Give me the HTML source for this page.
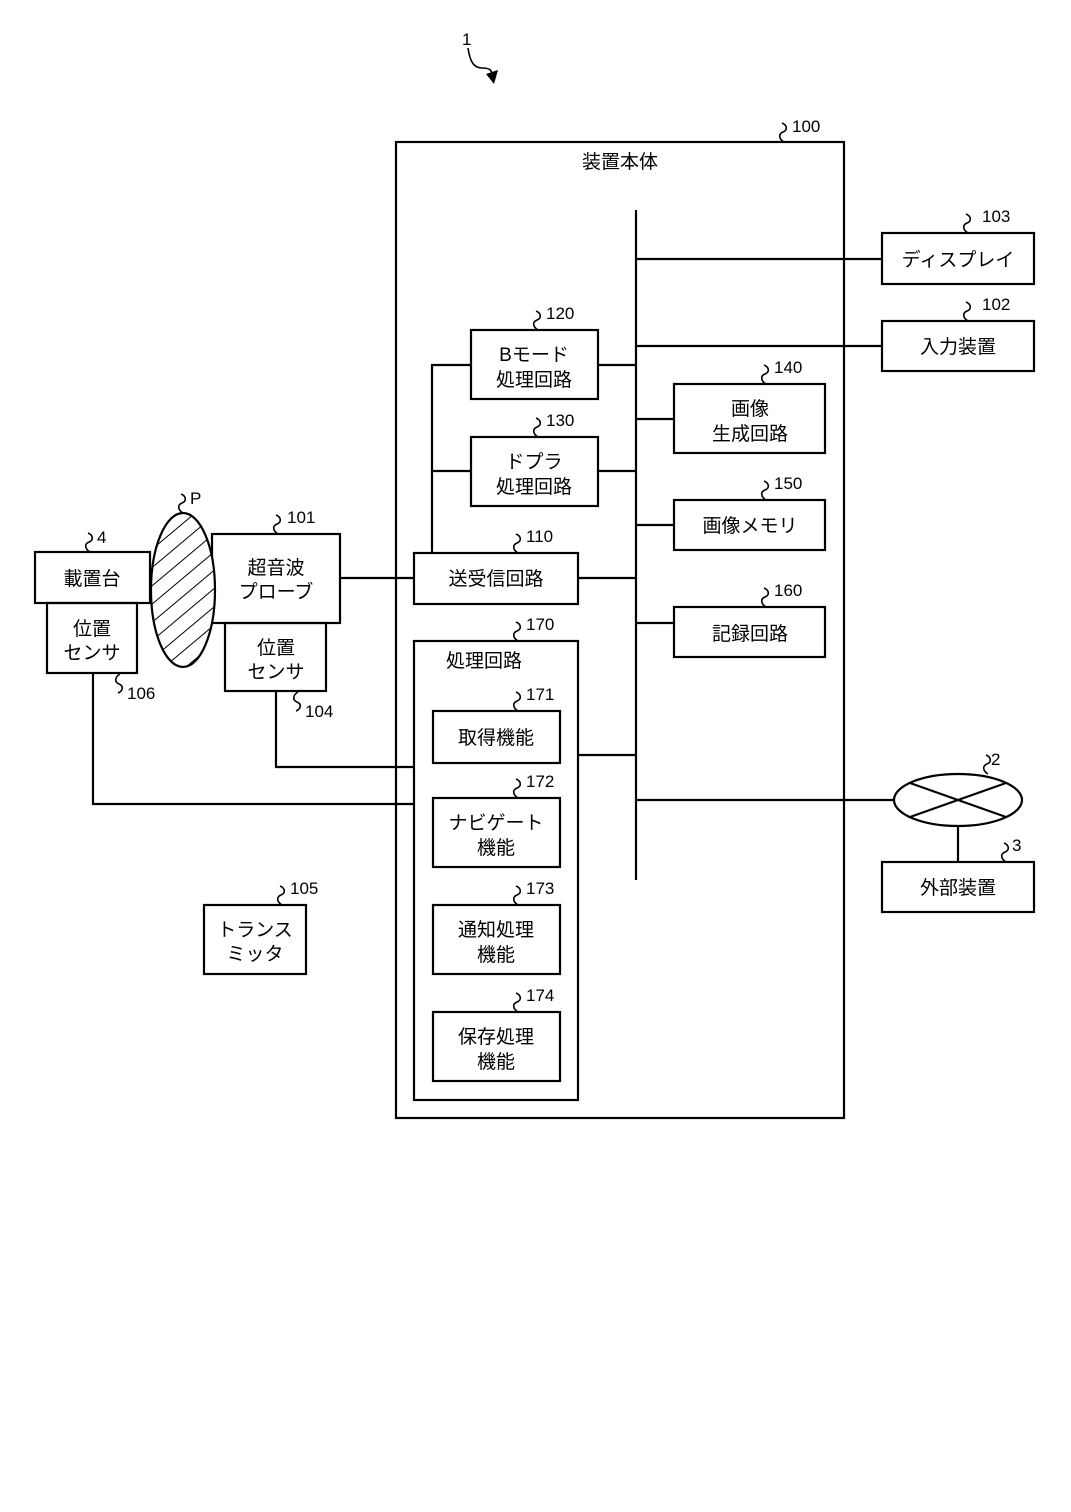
<!DOCTYPE html>
<html><head><meta charset="utf-8"><style>
html,body{margin:0;padding:0;background:#fff;}
svg{display:block;}
text{font-family:"Liberation Sans","Noto Sans CJK JP",sans-serif;fill:#000;}
.t{font-size:19px;text-anchor:middle;}
.n{font-size:17px;}
</style></head><body>
<svg width="1071" height="1512" viewBox="0 0 1071 1512" xmlns="http://www.w3.org/2000/svg">
<defs>
<pattern id="h" patternUnits="userSpaceOnUse" width="14" height="14" patternTransform="rotate(-40)">
<rect width="14" height="14" fill="#fff"/><line x1="0" y1="0" x2="14" y2="0" stroke="#000" stroke-width="2"/>
</pattern>
<path id="sq" d="M0 0 c-5 -3 -6 -8 -1 -10 c5 -2 4 -7 -1 -9" fill="none" stroke="#000" stroke-width="1.6"/>
</defs>
<g fill="none" stroke="#000" stroke-width="2.2">
<!-- main box -->
<rect x="396" y="142" width="448" height="976"/>
<line x1="636" y1="210" x2="636" y2="880"/>
<rect x="882" y="233" width="152" height="51"/>
<line x1="636" y1="259" x2="882" y2="259"/>
<rect x="882" y="321" width="152" height="50"/>
<line x1="636" y1="346" x2="882" y2="346"/>
<rect x="471" y="330" width="127" height="69"/>
<line x1="598" y1="365" x2="636" y2="365"/>
<rect x="471" y="437" width="127" height="69"/>
<line x1="598" y1="471" x2="636" y2="471"/>
<polyline points="471,365 432,365 432,553"/>
<line x1="432" y1="471" x2="471" y2="471"/>
<rect x="414" y="553" width="164" height="51"/>
<line x1="578" y1="578" x2="636" y2="578"/>
<rect x="674" y="384" width="151" height="69"/>
<line x1="636" y1="419" x2="674" y2="419"/>
<rect x="674" y="500" width="151" height="50"/>
<line x1="636" y1="525" x2="674" y2="525"/>
<rect x="674" y="607" width="151" height="50"/>
<line x1="636" y1="623" x2="674" y2="623"/>
<rect x="414" y="641" width="164" height="459"/>
<rect x="433" y="711" width="127" height="52"/>
<rect x="433" y="798" width="127" height="69"/>
<rect x="433" y="905" width="127" height="69"/>
<rect x="433" y="1012" width="127" height="69"/>
<line x1="578" y1="755" x2="636" y2="755"/>
<line x1="636" y1="800" x2="894" y2="800"/>
<ellipse cx="958" cy="800" rx="64" ry="26"/>
<line x1="910" y1="783" x2="1006" y2="817"/>
<line x1="910" y1="817" x2="1006" y2="783"/>
<line x1="958" y1="826" x2="958" y2="862"/>
<rect x="882" y="862" width="152" height="50"/>
<!-- left side -->
<rect x="212" y="534" width="128" height="89"/>
<line x1="340" y1="578" x2="414" y2="578"/>
<rect x="225" y="623" width="101" height="68"/>
<polyline points="276,691 276,767 414,767"/>
<rect x="35" y="552" width="115" height="51"/>
<rect x="47" y="603" width="90" height="70"/>
<polyline points="93,673 93,804 414,804"/>
<ellipse cx="183" cy="590" rx="32" ry="77" fill="url(#h)"/>
<rect x="204" y="905" width="102" height="69"/>
<!-- ref 1 arrow -->
<path d="M468 48 c2 14 6 20 14 20 c8 0 10 2 10 8" stroke-width="1.6"/>
</g>
<polygon points="486,74 498,70 494,84" fill="#000"/>
<!-- squiggles -->
<use href="#sq" x="784" y="142"/>
<use href="#sq" x="968" y="233"/>
<use href="#sq" x="968" y="321"/>
<use href="#sq" x="538" y="330"/>
<use href="#sq" x="538" y="437"/>
<use href="#sq" x="518" y="553"/>
<use href="#sq" x="766" y="384"/>
<use href="#sq" x="766" y="500"/>
<use href="#sq" x="766" y="607"/>
<use href="#sq" x="518" y="641"/>
<use href="#sq" x="518" y="711"/>
<use href="#sq" x="518" y="798"/>
<use href="#sq" x="518" y="905"/>
<use href="#sq" x="518" y="1012"/>
<use href="#sq" x="988" y="774"/>
<use href="#sq" x="1006" y="862"/>
<use href="#sq" x="278" y="534"/>
<use href="#sq" x="90" y="552"/>
<use href="#sq" x="183" y="513"/>
<use href="#sq" x="282" y="905"/>
<path d="M298 692 c-5 3 -6 8 -1 10 c5 2 4 7 -1 9" fill="none" stroke="#000" stroke-width="1.6"/>
<path d="M120 674 c-5 3 -6 8 -1 10 c5 2 4 7 -1 9" fill="none" stroke="#000" stroke-width="1.6"/>
<!-- numbers -->
<text class="n" x="462" y="45">1</text>
<text class="n" x="792" y="132">100</text>
<text class="n" x="982" y="222">103</text>
<text class="n" x="982" y="310">102</text>
<text class="n" x="546" y="319">120</text>
<text class="n" x="546" y="426">130</text>
<text class="n" x="526" y="542">110</text>
<text class="n" x="774" y="373">140</text>
<text class="n" x="774" y="489">150</text>
<text class="n" x="774" y="596">160</text>
<text class="n" x="526" y="630">170</text>
<text class="n" x="526" y="700">171</text>
<text class="n" x="526" y="787">172</text>
<text class="n" x="526" y="894">173</text>
<text class="n" x="526" y="1001">174</text>
<text class="n" x="991" y="765">2</text>
<text class="n" x="1012" y="851">3</text>
<text class="n" x="287" y="523">101</text>
<text class="n" x="97" y="543">4</text>
<text class="n" x="190" y="504">P</text>
<text class="n" x="290" y="894">105</text>
<text class="n" x="305" y="717">104</text>
<text class="n" x="127" y="699">106</text>
<!-- labels -->
<text class="t" x="620" y="168">装置本体</text>
<text class="t" x="958" y="266">ディスプレイ</text>
<text class="t" x="958" y="353">入力装置</text>
<text class="t" x="534" y="361">Bモード</text>
<text class="t" x="534" y="386">処理回路</text>
<text class="t" x="534" y="468">ドプラ</text>
<text class="t" x="534" y="493">処理回路</text>
<text class="t" x="496" y="585">送受信回路</text>
<text class="t" x="750" y="415">画像</text>
<text class="t" x="750" y="440">生成回路</text>
<text class="t" x="750" y="532">画像メモリ</text>
<text class="t" x="750" y="640">記録回路</text>
<text class="t" x="484" y="667">処理回路</text>
<text class="t" x="496" y="744">取得機能</text>
<text class="t" x="496" y="829">ナビゲート</text>
<text class="t" x="496" y="854">機能</text>
<text class="t" x="496" y="936">通知処理</text>
<text class="t" x="496" y="961">機能</text>
<text class="t" x="496" y="1043">保存処理</text>
<text class="t" x="496" y="1068">機能</text>
<text class="t" x="958" y="894">外部装置</text>
<text class="t" x="276" y="574">超音波</text>
<text class="t" x="276" y="598">プローブ</text>
<text class="t" x="276" y="654">位置</text>
<text class="t" x="276" y="678">センサ</text>
<text class="t" x="92" y="585">載置台</text>
<text class="t" x="92" y="635">位置</text>
<text class="t" x="92" y="659">センサ</text>
<text class="t" x="255" y="936">トランス</text>
<text class="t" x="255" y="960">ミッタ</text>
</svg>
</body></html>
